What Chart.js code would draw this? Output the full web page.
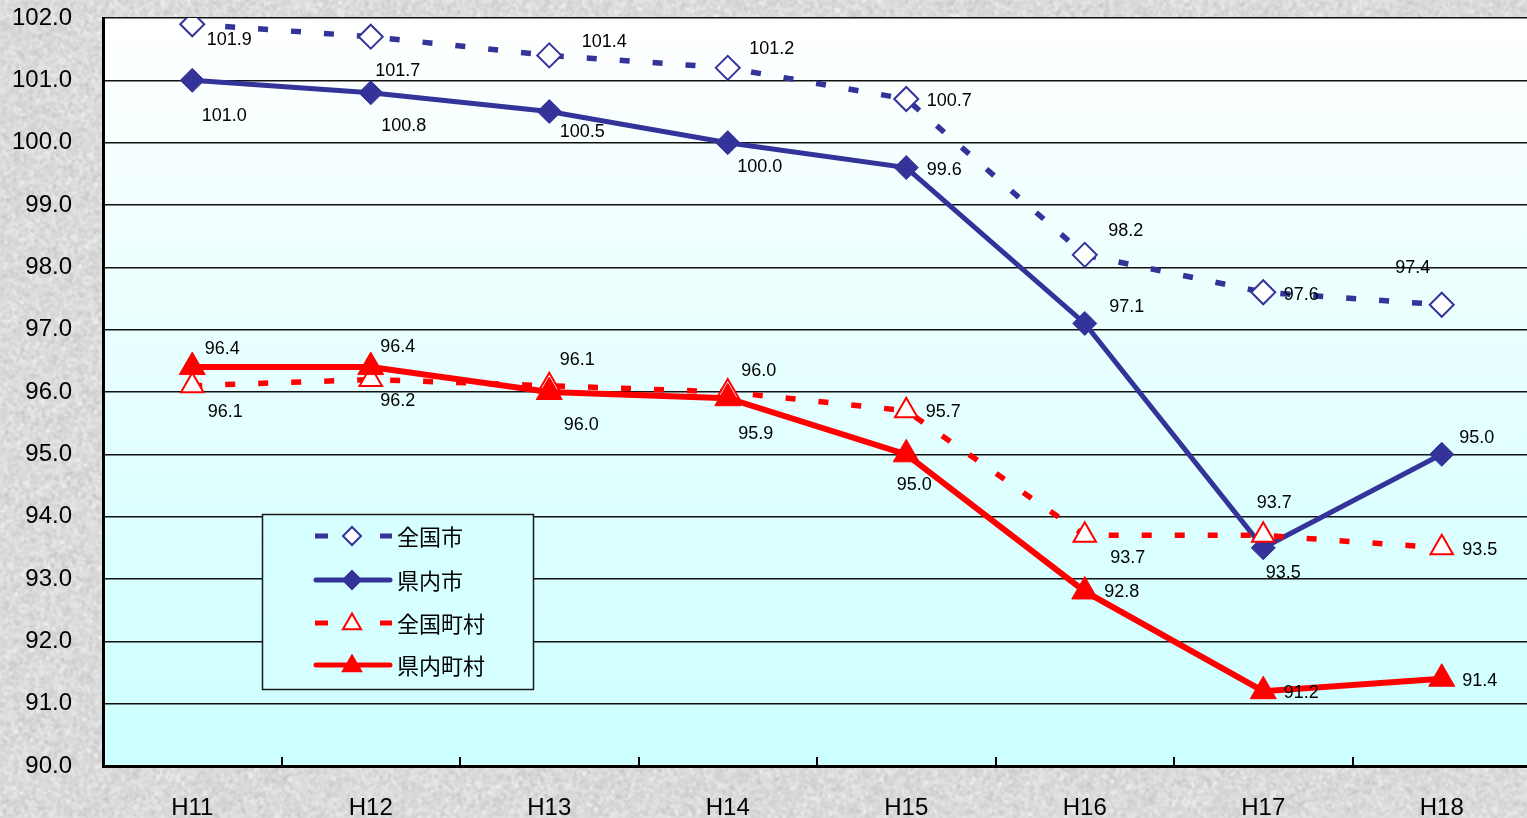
<!DOCTYPE html>
<html>
<head>
<meta charset="utf-8">
<script src="https://cdn.jsdelivr.net/npm/chart.js@4.4.1/dist/chart.umd.min.js"></script>
<style>
  html, body { margin: 0; padding: 0; overflow: hidden; background: #dedede; }
  #wrap { width: 1531px; height: 818px; }
</style>
</head>
<body>
<div id="wrap"><canvas id="c" width="1531" height="818"></canvas></div>
<script>
// Fiscal years (Heisei)
const years = ['H11', 'H12', 'H13', 'H14', 'H15', 'H16', 'H17', 'H18'];

// Index values per group
const zenkokuShi    = [101.9, 101.7, 101.4, 101.2, 100.7, 98.2, 97.6, 97.4]; // 全国市
const kennaiShi     = [101.0, 100.8, 100.5, 100.0, 99.6, 97.1, 93.5, 95.0];  // 県内市
const zenkokuChoson = [96.1, 96.2, 96.1, 96.0, 95.7, 93.7, 93.7, 93.5];      // 全国町村
const kennaiChoson  = [96.4, 96.4, 96.0, 95.9, 95.0, 92.8, 91.2, 91.4];      // 県内町村

const seriesNames = ['全国市', '県内市', '全国町村', '県内町村'];

// Value axis range
const yMin = 90;
const yMax = 102;
const yStep = 1;

// Where each value label sits relative to its point (px)
const labelOffsets = [
  [[37, 16], [27, 34], [55, -13], [44, -19], [43, 2], [41, -24], [38, 3], [-29, -37]],
  [[32, 36], [33, 33], [33, 21], [32, 24], [38, 2], [42, -16], [20, 25], [35, -16]],
  [[33, 26], [27, 21], [28, -26], [31, -21], [37, 1], [43, 23], [11, -32], [38, 2]],
  [[30, -18], [27, -20], [32, 33], [28, 36], [8, 31], [37, 1], [38, 2], [38, 2]]
];

const NAVY = '#333399';
const RED = '#ff0000';

// Speckled paper texture for the page around the plot
function makeTexture(w, h) {
  const cv = document.createElement('canvas');
  cv.width = w; cv.height = h;
  const cx = cv.getContext('2d');
  const img = cx.createImageData(w, h);
  let s = 12345;
  const rnd = () => { s = (s * 1103515245 + 12345) & 0x7fffffff; return s / 0x7fffffff; };
  for (let y = 0; y < h; y += 2) {
    for (let x = 0; x < w; x += 2) {
      const r = rnd();
      let v = 218 + (r - 0.5) * 34;
      if (r > 0.93) v = 245;
      if (r < 0.05) v = 190;
      for (let dy = 0; dy < 2; dy++) for (let dx = 0; dx < 2; dx++) {
        const i = ((y + dy) * w + (x + dx)) * 4;
        img.data[i] = v; img.data[i + 1] = v; img.data[i + 2] = v; img.data[i + 3] = 255;
      }
    }
  }
  cx.putImageData(img, 0, 0);
  const out = document.createElement('canvas');
  out.width = w; out.height = h;
  const oc = out.getContext('2d');
  oc.filter = 'blur(0.8px)';
  oc.drawImage(cv, 0, 0);
  return out;
}
const texture = makeTexture(1531, 818);

function drawMarker(ctx, style, x, y, r, filled, color) {
  ctx.save();
  ctx.beginPath();
  if (style === 'rectRot') {
    ctx.moveTo(x, y - r); ctx.lineTo(x + r, y); ctx.lineTo(x, y + r); ctx.lineTo(x - r, y);
  } else {
    const hw = r * Math.sqrt(3) / 2;
    ctx.moveTo(x, y - r); ctx.lineTo(x + hw, y + r / 2); ctx.lineTo(x - hw, y + r / 2);
  }
  ctx.closePath();
  ctx.fillStyle = filled ? color : '#ffffff';
  ctx.fill();
  ctx.lineWidth = 2;
  ctx.strokeStyle = color;
  ctx.stroke();
  ctx.restore();
}

const backdrop = {
  id: 'backdrop',
  beforeDraw(chart) {
    const { ctx, chartArea: a } = chart;
    ctx.save();
    ctx.drawImage(texture, 0, 0);
    const g = ctx.createLinearGradient(0, a.top, 0, a.bottom);
    g.addColorStop(0, '#ffffff');
    g.addColorStop(0.45, '#e8ffff');
    g.addColorStop(1, '#ccffff');
    ctx.fillStyle = g;
    ctx.fillRect(a.left, a.top, a.right - a.left, a.bottom - a.top);
    ctx.restore();
  },
  afterDatasetsDraw(chart) {
    const { ctx, chartArea: a } = chart;
    const xs = chart.scales.x;
    // small inward tick marks between categories
    ctx.save();
    ctx.strokeStyle = '#000';
    ctx.lineWidth = 2;
    for (let i = 1; i < years.length; i++) {
      const x = Math.round((xs.getPixelForValue(i - 1) + xs.getPixelForValue(i)) / 2);
      ctx.beginPath();
      ctx.moveTo(x, a.bottom);
      ctx.lineTo(x, a.bottom - 9);
      ctx.stroke();
    }
    // value labels
    ctx.fillStyle = '#000';
    ctx.font = '18px "Liberation Sans", Arial, sans-serif';
    ctx.textAlign = 'center';
    ctx.textBaseline = 'middle';
    chart.data.datasets.forEach((ds, di) => {
      const meta = chart.getDatasetMeta(di);
      meta.data.forEach((pt, i) => {
        const off = labelOffsets[di][i];
        ctx.fillText(ds.data[i].toFixed(1), pt.x + off[0], pt.y + off[1]);
      });
    });
    ctx.restore();
  },
  afterDraw(chart) {
    const { ctx } = chart;
    ctx.save();
    ctx.fillStyle = '#d6ffff';
    ctx.fillRect(262, 514, 272, 176);
    ctx.strokeStyle = '#1a1a1a';
    ctx.lineWidth = 1.5;
    ctx.strokeRect(262.5, 514.5, 271, 175);
    const rows = [536, 580, 623, 665];
    chart.data.datasets.forEach((ds, di) => {
      const y = rows[di];
      const color = ds.borderColor;
      ctx.strokeStyle = color;
      ctx.lineWidth = 5;
      if (ds.borderDash && ds.borderDash.length) {
        ctx.lineCap = 'butt';
        ctx.beginPath();
        ctx.moveTo(315, y); ctx.lineTo(328, y);
        ctx.moveTo(380, y); ctx.lineTo(392, y);
        ctx.stroke();
      } else {
        ctx.lineCap = 'round';
        ctx.beginPath();
        ctx.moveTo(316, y); ctx.lineTo(390, y);
        ctx.stroke();
      }
      const filled = ds.pointBackgroundColor !== '#ffffff';
      const tri = ds.pointStyle === 'triangle';
      drawMarker(ctx, ds.pointStyle, 352, tri ? y + 1 : y, tri ? 10.5 : 9, filled, color);
      ctx.fillStyle = '#000';
      ctx.font = '22px "Noto Sans CJK JP", sans-serif';
      ctx.textAlign = 'left';
      ctx.textBaseline = 'middle';
      ctx.fillText(ds.label, 397, y + 1);
    });
    ctx.restore();
  }
};

const tickFont = { family: '"Liberation Sans", Arial, sans-serif', size: 24 };

new Chart(document.getElementById('c'), {
  type: 'line',
  data: {
    labels: years,
    datasets: [
      {
        label: seriesNames[0], data: zenkokuShi, order: 3,
        borderColor: NAVY, borderWidth: 5.5, borderDash: [10, 23],
        pointStyle: 'rectRot', pointRadius: 12, pointBorderWidth: 2,
        pointBackgroundColor: '#ffffff', pointBorderColor: NAVY
      },
      {
        label: seriesNames[1], data: kennaiShi, order: 2,
        borderColor: NAVY, borderWidth: 5,
        pointStyle: 'rectRot', pointRadius: 12, pointBorderWidth: 1,
        pointBackgroundColor: NAVY, pointBorderColor: NAVY
      },
      {
        label: seriesNames[2], data: zenkokuChoson, order: 1,
        borderColor: RED, borderWidth: 5.5, borderDash: [10, 23],
        pointStyle: 'triangle', pointRadius: 13, pointBorderWidth: 2,
        pointBackgroundColor: '#ffffff', pointBorderColor: RED
      },
      {
        label: seriesNames[3], data: kennaiChoson, order: 0,
        borderColor: RED, borderWidth: 6,
        pointStyle: 'triangle', pointRadius: 15, pointBorderWidth: 1,
        pointBackgroundColor: RED, pointBorderColor: RED
      }
    ]
  },
  options: {
    responsive: false,
    animation: false,
    events: [],
    layout: { autoPadding: false, padding: { top: 18, right: 0, bottom: 0, left: 0 } },
    plugins: { legend: { display: false }, tooltip: { enabled: false } },
    elements: { line: { tension: 0 } },
    scales: {
      x: {
        offset: true,
        grid: { display: true, drawOnChartArea: false, drawTicks: true, tickLength: 28, tickColor: 'rgba(0,0,0,0)' },
        border: { display: true, color: '#000', width: 3 },
        ticks: { color: '#000', font: tickFont, padding: 0 },
        afterFit(s) { s.height = 52; }
      },
      y: {
        min: yMin, max: yMax,
        grid: { color: '#111', lineWidth: 1.5, drawTicks: true, tickLength: 31, tickColor: 'rgba(0,0,0,0)' },
        border: { display: true, color: '#000', width: 3 },
        ticks: {
          stepSize: yStep, color: '#000', padding: 0, font: tickFont,
          callback: v => Number(v).toFixed(1)
        },
        afterFit(s) { s.width = 103; }
      }
    }
  },
  plugins: [backdrop]
});
</script>
</body>
</html>
